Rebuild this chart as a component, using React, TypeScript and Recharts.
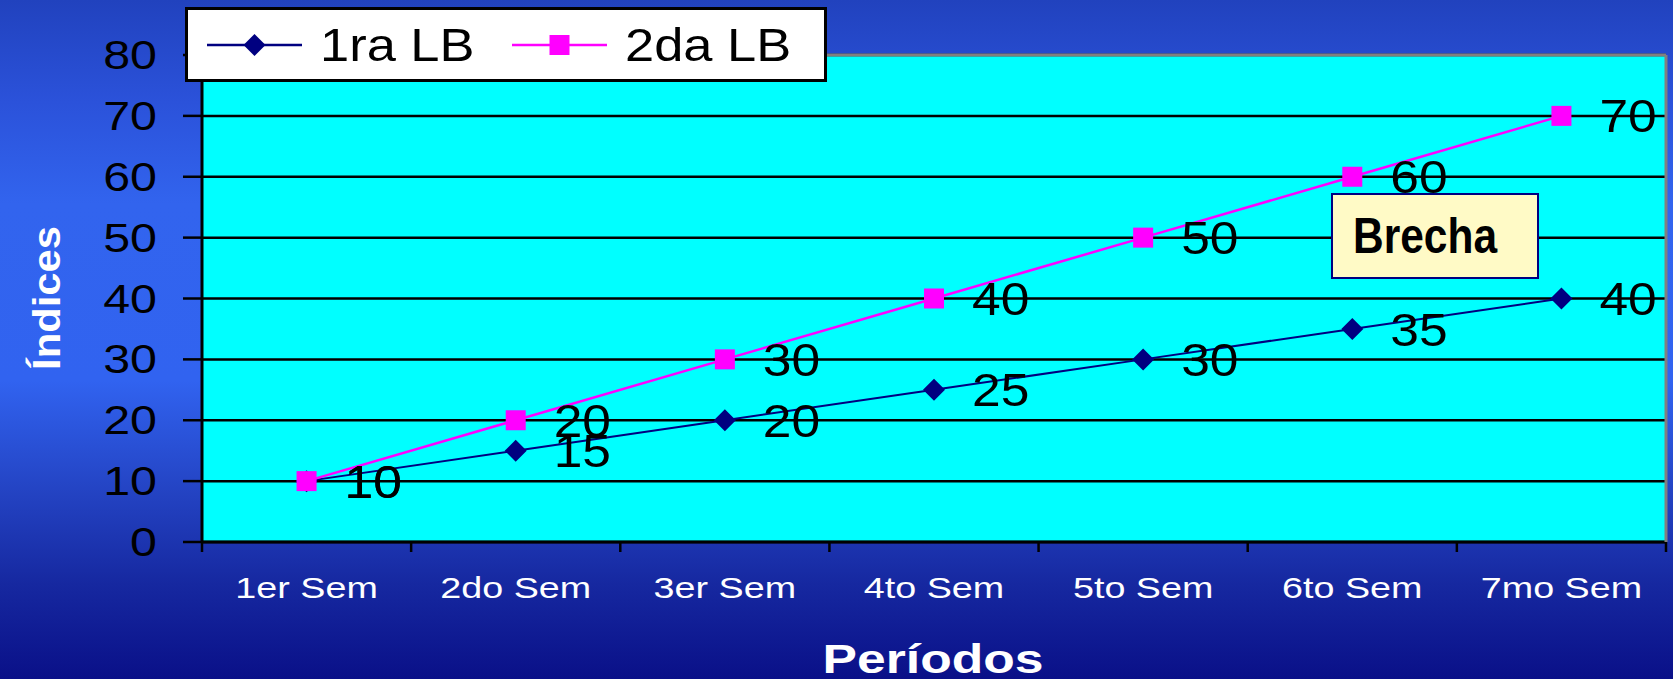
import React from 'react'
import { LineChart, Line, XAxis, YAxis, CartesianGrid, ReferenceLine } from 'recharts'

const categories = ['1er Sem', '2do Sem', '3er Sem', '4to Sem', '5to Sem', '6to Sem', '7mo Sem']
const lb1Values = [10, 15, 20, 25, 30, 35, 40]
const lb2Values = [10, 20, 30, 40, 50, 60, 70]
const yTicks = [0, 10, 20, 30, 40, 50, 60, 70, 80]
const seriesNames = ['1ra LB', '2da LB']
const seriesColors = ['#000080', '#FF00FF']

const data = categories.map((name, i) => ({ name, lb1: lb1Values[i], lb2: lb2Values[i] }))

const FONT = '"Liberation Sans", Arial, sans-serif'
const PLOT_W = 1464
const BAND = PLOT_W / categories.length

function Diamond({ cx, cy, color, size = 11 }: any) {
  if (cx == null || cy == null) return null
  return <polygon points={`${cx},${cy - size} ${cx + size},${cy} ${cx},${cy + size} ${cx - size},${cy}`} fill={color} />
}

function Square({ cx, cy, color, size = 10 }: any) {
  if (cx == null || cy == null) return null
  return <rect x={cx - size} y={cy - size} width={size * 2} height={size * 2} fill={color} />
}

function YTick({ x, y, payload }: any) {
  return (
    <g transform={`translate(${x},${y})`}>
      <text transform="scale(1.21,1)" textAnchor="end" dy="0.35em" fontSize={40} fill="#000" fontFamily={FONT}>
        {payload.value}
      </text>
    </g>
  )
}

function XTick({ x, y, payload, index }: any) {
  const half = BAND / 2
  return (
    <g>
      <line x1={x - half} x2={x - half} y1={y} y2={y + 10} stroke="#000" strokeWidth={2.5} />
      {index === categories.length - 1 && (
        <line x1={x + half} x2={x + half} y1={y} y2={y + 10} stroke="#000" strokeWidth={2.5} />
      )}
      <g transform={`translate(${x},${y + 56})`}>
        <text transform="scale(1.3,1)" textAnchor="middle" fontSize={29} fill="#fff" fontFamily={FONT}>
          {payload.value}
        </text>
      </g>
    </g>
  )
}

function ValueLabel(props: any) {
  const x = props.x ?? props.viewBox?.x
  const y = props.y ?? props.viewBox?.y
  if (x == null || y == null) return null
  return (
    <g transform={`translate(${x + 38},${y})`}>
      <text transform="scale(1.12,1)" dy="0.36em" fontSize={46} fill="#000" fontFamily={FONT}>
        {props.value}
      </text>
    </g>
  )
}

function LegendBox() {
  return (
    <div
      style={{
        position: 'absolute', left: 185, top: 7, width: 642, height: 75, boxSizing: 'border-box',
        border: '3px solid #000', background: '#fff', display: 'flex', alignItems: 'center', fontFamily: FONT,
      }}
    >
      {seriesNames.map((name, i) => (
        <div key={name} style={{ display: 'flex', alignItems: 'center', marginLeft: i === 0 ? 19 : 36 }}>
          <svg width={95} height={26}>
            <line x1={0} x2={95} y1={13} y2={13} stroke={seriesColors[i]} strokeWidth={2.5} />
            {i === 0 ? <Diamond cx={47.5} cy={13} color={seriesColors[i]} size={11} /> : <Square cx={47.5} cy={13} color={seriesColors[i]} size={10} />}
          </svg>
          <div style={{ width: 156, marginLeft: 18, fontSize: 46, lineHeight: 1, color: '#000' }}>
            <span style={{ display: 'inline-block', transform: 'scaleX(1.14)', transformOrigin: 'left center' }}>{name}</span>
          </div>
        </div>
      ))}
    </div>
  )
}

export default function App() {
  return (
    <div
      style={{
        position: 'absolute', left: 0, top: 0, width: 1673, height: 679, overflow: 'hidden',
        background: 'linear-gradient(to bottom, #2142BE 0%, #2B52DA 15%, #3264EE 30%, #3163F0 56%, #2444C4 72%, #1628A0 86%, #0A1088 100%)',
      }}
    >
      <LineChart width={1673} height={679} data={data} margin={{ top: 55, right: 0, left: 102, bottom: 77 }}>
        <CartesianGrid vertical={false} fill="#00FFFF" stroke="#000" strokeWidth={2.5} />
        <ReferenceLine y={80} stroke="#808080" strokeWidth={3} />
        <XAxis
          dataKey="name"
          height={60}
          interval={0}
          padding={{ left: BAND / 2, right: BAND / 2 }}
          tickSize={0}
          tickMargin={0}
          tickLine={false}
          axisLine={{ stroke: '#000', strokeWidth: 3 }}
          tick={<XTick />}
        />
        <YAxis
          width={100}
          domain={[0, 80]}
          ticks={yTicks}
          interval={0}
          tickSize={19}
          tickMargin={26}
          tickLine={{ stroke: '#000', strokeWidth: 2.5 }}
          axisLine={{ stroke: '#000', strokeWidth: 3 }}
          tick={<YTick />}
        />
        <YAxis yAxisId="r" orientation="right" width={7} domain={[0, 80]} tick={false} tickLine={false} axisLine={{ stroke: '#808080', strokeWidth: 3 }} />
        <Line
          type="linear"
          dataKey="lb1"
          name={seriesNames[0]}
          stroke={seriesColors[0]}
          strokeWidth={2}
          isAnimationActive={false}
          dot={(p: any) => <Diamond key={`d${p.index}`} cx={p.cx} cy={p.cy} color={seriesColors[0]} />}
          label={<ValueLabel />}
        />
        <Line
          type="linear"
          dataKey="lb2"
          name={seriesNames[1]}
          stroke={seriesColors[1]}
          strokeWidth={2.5}
          isAnimationActive={false}
          dot={(p: any) => <Square key={`s${p.index}`} cx={p.cx} cy={p.cy} color={seriesColors[1]} />}
          label={<ValueLabel />}
        />
      </LineChart>

      <LegendBox />

      <div
        style={{
          position: 'absolute', left: 1331, top: 193, width: 208, height: 86, boxSizing: 'border-box',
          border: '2.5px solid #000080', background: '#FFFAC6', display: 'flex', alignItems: 'center',
          paddingLeft: 20, fontFamily: FONT,
        }}
      >
        <span style={{ display: 'inline-block', fontSize: 50, fontWeight: 'bold', lineHeight: 1, color: '#000', transform: 'scaleX(0.85)', transformOrigin: 'left center' }}>
          Brecha
        </span>
      </div>

      <div
        style={{
          position: 'absolute', left: 46, top: 298, transform: 'translate(-50%,-50%) rotate(-90deg) scaleX(1.07)',
          fontFamily: FONT, fontWeight: 'bold', fontSize: 39, lineHeight: 1, color: '#fff', whiteSpace: 'nowrap',
        }}
      >
        Índices
      </div>

      <div
        style={{
          position: 'absolute', left: 933, top: 659, transform: 'translate(-50%,-50%) scaleX(1.29)',
          fontFamily: FONT, fontWeight: 'bold', fontSize: 40, lineHeight: 1, color: '#fff', whiteSpace: 'nowrap',
        }}
      >
        Períodos
      </div>
    </div>
  )
}
